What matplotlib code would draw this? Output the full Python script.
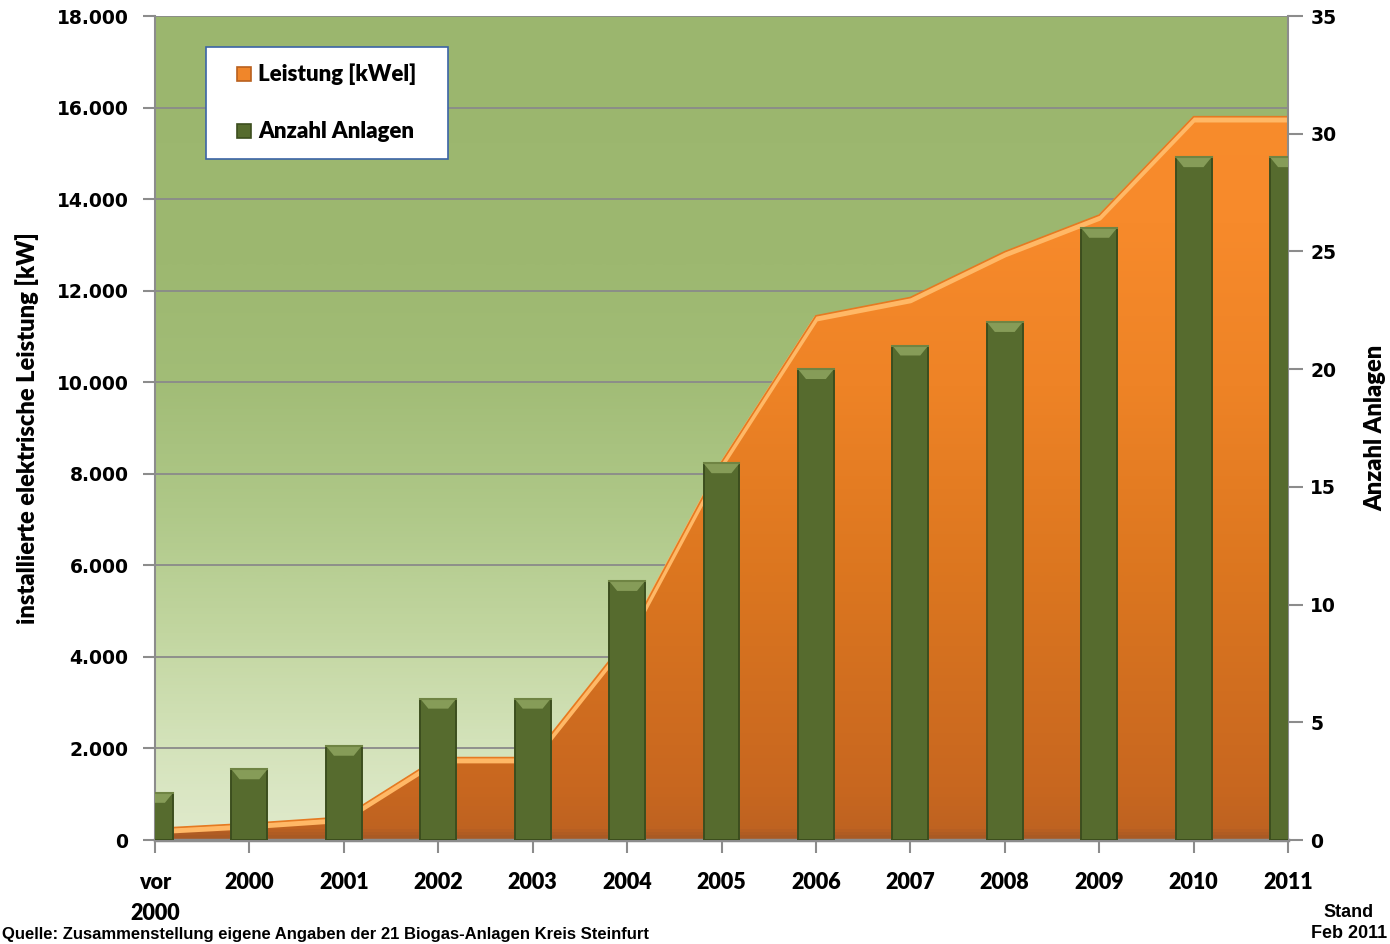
import numpy as np
import matplotlib
matplotlib.use("Agg")
import matplotlib.pyplot as plt
from matplotlib.colors import LinearSegmentedColormap
from matplotlib.patches import Polygon, Rectangle
import matplotlib.transforms as mtransforms
from matplotlib.ticker import FuncFormatter

# ---------------- data ----------------
categories = ["vor\n2000", "2000", "2001", "2002", "2003", "2004", "2005",
              "2006", "2007", "2008", "2009", "2010", "2011"]
leistung_kwel = [250, 360, 500, 1800, 1800, 4400, 8250, 11450, 11850,
                 12850, 13650, 15800, 15800]
anzahl_anlagen = [2, 3, 4, 6, 6, 11, 16, 20, 21, 22, 26, 29, 29]
left_ticks = [0, 2000, 4000, 6000, 8000, 10000, 12000, 14000, 16000, 18000]
right_ticks = [0, 5, 10, 15, 20, 25, 30, 35]
legend_labels = ["Leistung [kWel]", "Anzahl Anlagen"]
ylabel_left = "installierte elektrische Leistung [kW]"
ylabel_right = "Anzahl Anlagen"
stand_text = "Stand\nFeb 2011"
source_text = "Quelle: Zusammenstellung eigene Angaben der 21 Biogas-Anlagen Kreis Steinfurt"

# ---------------- figure ----------------
W, H = 1390, 944
fig = plt.figure(figsize=(W / 100, H / 100), dpi=100)
fig.patch.set_facecolor("white")

def fx(px):
    return px / W

def fy(py):
    return 1 - py / H

L, R, T, B = 155, 1288, 16, 840
ax = fig.add_axes([fx(L), fy(B), fx(R - L), (B - T) / H])
ax2 = ax.twinx()

x = np.arange(len(categories))
ymax_left = left_ticks[-1]
ymax_right = right_ticks[-1]

# background gradient
bg_cmap = LinearSegmentedColormap.from_list(
    "bg", [(0.0, "#e0eacc"), (0.12, "#d3e2b9"), (0.25, "#c2d6a0"),
           (0.4, "#afc888"), (0.55, "#a2bd77"), (0.7, "#9db870"), (1.0, "#9bb66e")])
grad = np.linspace(0, 1, 256).reshape(-1, 1)
ax.imshow(grad, extent=[x[0], x[-1], 0, ymax_left], aspect="auto",
          cmap=bg_cmap, origin="lower", zorder=0, interpolation="bicubic")

# area with gradient
or_cmap = LinearSegmentedColormap.from_list(
    "or", [(0.0, "#a95a24"), (0.012, "#bf6321"), (0.06, "#c8671f"),
           (0.3, "#da751f"), (0.55, "#ee8326"), (0.75, "#f78a2b"), (1.0, "#f98d2d")])
verts = np.column_stack([np.concatenate([x, x[::-1]]),
                         np.concatenate([leistung_kwel, np.zeros(len(x))])])
poly = Polygon(verts, closed=True, facecolor="none", edgecolor="none",
               transform=ax.transData)
ax.add_patch(poly)
im = ax.imshow(grad, extent=[x[0], x[-1], 0, ymax_left], aspect="auto",
               cmap=or_cmap, origin="lower", zorder=1, interpolation="bicubic")
im.set_clip_path(poly)
# top edge highlight
off = mtransforms.offset_copy(ax.transData, fig=fig, x=0, y=-3, units="dots")
ax.plot(x, leistung_kwel, color="#ffb866", lw=4, zorder=1.2,
        transform=off, solid_capstyle="butt", solid_joinstyle="round")
ax.plot(x, leistung_kwel, color="#e57a22", lw=1.2, zorder=1.3,
        solid_joinstyle="round")

ax.set_xlim(x[0], x[-1])
ax.set_ylim(0, ymax_left)
ax.set_yticks(left_ticks)
ax.yaxis.set_major_formatter(FuncFormatter(lambda v, p: f"{int(v):,}".replace(",", ".")))
ax.set_axisbelow(True)
ax.yaxis.grid(True, color="#8a8a8a", lw=1.3)
ax.xaxis.grid(False)

# bars on secondary axis
bw = 0.38
bars = ax2.bar(x, anzahl_anlagen, width=bw, color="#566b2e",
               edgecolor="#3c4e1e", lw=1.4, zorder=3)
bev_d = 0.42
bev_in = 0.085
for xi, v in zip(x, anzahl_anlagen):
    trap = Polygon([(xi - bw / 2, v), (xi + bw / 2, v),
                    (xi + bw / 2 - bev_in, v - bev_d),
                    (xi - bw / 2 + bev_in, v - bev_d)],
                   closed=True, facecolor="#869c58", edgecolor="none", zorder=4)
    ax2.add_patch(trap)
    ax2.plot([xi - bw / 2, xi + bw / 2], [v, v], color="#6f8443", lw=1.5, zorder=5)
ax2.set_ylim(0, ymax_right)
ax2.set_yticks(right_ticks)
ax2.set_xlim(x[0], x[-1])

# ticks and spines
grey = "#8c8c8c"
ax.set_xticks(x)
ax.set_xticklabels(categories)
for lab in ax.get_xticklabels():
    lab.set_fontfamily("Lato")
    lab.set_fontweight("heavy")
    lab.set_fontsize(15.5)
    lab.set_linespacing(1.6)
ax.tick_params(axis="x", length=9, width=1.5, color=grey, pad=14)
ax.tick_params(axis="y", length=9, width=1.5, color=grey, pad=10)
for lab in ax.get_yticklabels():
    lab.set_fontfamily("DejaVu Sans")
    lab.set_fontweight("bold")
    lab.set_fontsize(13.5)
ax2.tick_params(axis="y", length=11, width=1.5, color=grey, pad=5)
for lab in ax2.get_yticklabels():
    lab.set_fontfamily("DejaVu Sans")
    lab.set_fontweight("bold")
    lab.set_fontsize(13.5)

for a in (ax, ax2):
    a.spines["top"].set_visible(False)
ax.spines["right"].set_visible(False)
ax2.spines["left"].set_visible(False)
ax2.spines["bottom"].set_visible(False)
ax.spines["left"].set_color(grey)
ax.spines["left"].set_linewidth(1.5)
ax.spines["bottom"].set_color(grey)
ax.spines["bottom"].set_linewidth(2.5)
ax2.spines["right"].set_color(grey)
ax2.spines["right"].set_linewidth(1.5)

# axis titles
fig.text(fx(27), fy(428), ylabel_left, rotation=90, ha="center", va="center",
         fontfamily="Lato", fontweight="heavy", fontsize=17)
fig.text(fx(1375), fy(428), ylabel_right, rotation=90, ha="center", va="center",
         fontfamily="Lato", fontweight="heavy", fontsize=17)

# legend (manual box)
fig.add_artist(Rectangle((fx(206), fy(159)), fx(242), 112 / H,
                         transform=fig.transFigure, facecolor="white",
                         edgecolor="#3b64a6", lw=1.2, zorder=10))
leg_colors = [("#f0862a", "#b9601e"), ("#566b2e", "#3c4e1e")]
for (fc, ec), lab, py in zip(leg_colors, legend_labels, [74, 131]):
    fig.add_artist(Rectangle((fx(237), fy(py + 7)), 14 / W, 14 / H,
                             transform=fig.transFigure, facecolor=fc,
                             edgecolor=ec, lw=1.2, zorder=11))
    fig.text(fx(258), fy(py), lab, ha="left", va="center", fontfamily="Lato",
             fontweight="heavy", fontsize=16, zorder=12)

# stand text
fig.text(fx(1387), fy(923), stand_text, ha="right", va="center",
         multialignment="center", fontfamily="Liberation Sans",
         fontweight="bold", fontsize=13, linespacing=1.25)
# source line at the bottom edge
fig.text(fx(2), fy(942), source_text, ha="left", va="bottom",
         fontfamily="Liberation Sans", fontweight="bold", fontsize=12)

fig.savefig("out.png", dpi=100)
